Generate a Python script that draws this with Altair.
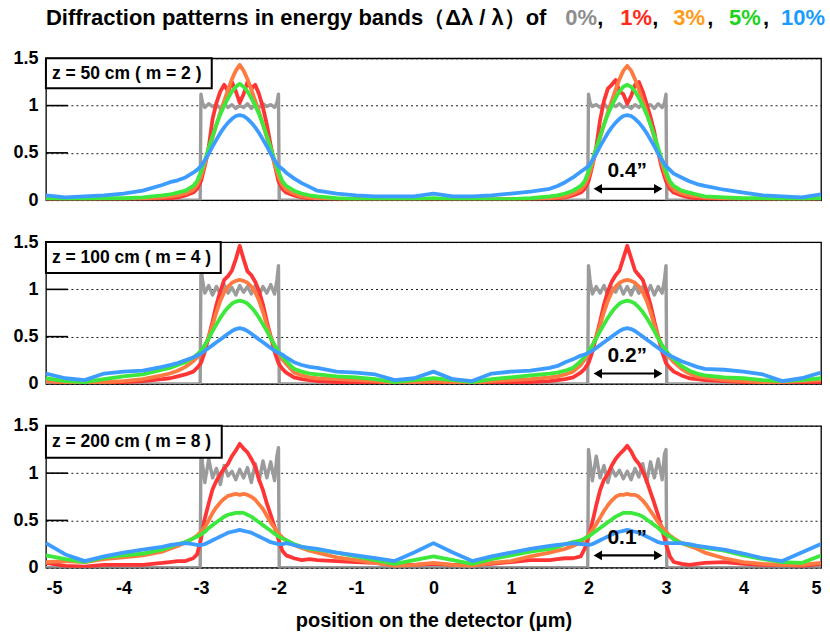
import altair as alt
import pandas as pd

FONT = "Liberation Sans"

# ---------------- data ----------------
x_grid = [
    -5.0, -4.75, -4.5, -4.25, -4.0, -3.75, -3.5,
    -3.4, -3.3, -3.2, -3.1, -3.05, -3.0, -2.95, -2.9, -2.85, -2.8, -2.75, -2.7, -2.65, -2.6, -2.55,
    -2.5, -2.45, -2.4, -2.35, -2.3, -2.25, -2.2, -2.15, -2.1, -2.05, -2.0, -1.95, -1.9, -1.8, -1.7, -1.6,
    -1.5, -1.25, -1.0, -0.75, -0.5, -0.25, 0.0, 0.25, 0.5, 0.75, 1.0, 1.25, 1.5,
    1.6, 1.7, 1.8, 1.9, 1.95, 2.0, 2.05, 2.1, 2.15, 2.2, 2.25, 2.3, 2.35, 2.4, 2.45,
    2.5, 2.55, 2.6, 2.65, 2.7, 2.75, 2.8, 2.85, 2.9, 2.95, 3.0, 3.05, 3.1, 3.2, 3.3, 3.4,
    3.5, 3.75, 4.0, 4.25, 4.5, 4.75, 5.0]

gray_x = [
    -5.0,
    -3.01, -3.0, -2.98, -2.95, -2.9, -2.85, -2.8, -2.75, -2.7, -2.65, -2.6, -2.55, -2.5, -2.45, -2.4,
    -2.35, -2.3, -2.25, -2.2, -2.15, -2.1, -2.05, -2.02, -2.0, -1.99,
    1.99, 2.0, 2.02, 2.05, 2.1, 2.15, 2.2, 2.25, 2.3, 2.35, 2.4, 2.45, 2.5, 2.55, 2.6,
    2.65, 2.7, 2.75, 2.8, 2.85, 2.9, 2.95, 2.98, 3.0, 3.01,
    5.0]

# ---- panel 1 : z = 50 cm ----
p1_gray = [
    0.0,
    0.0, 1.12, 1.03, 0.98, 1.02, 0.99, 1.01, 0.97, 1.02, 0.98, 1.01, 0.97, 1.0, 0.98, 1.02,
    0.97, 1.01, 0.98, 1.02, 0.99, 1.01, 0.98, 1.03, 1.12, 0.0,
    0.0, 1.12, 1.03, 0.99, 1.01, 0.98, 1.02, 0.97, 1.01, 0.99, 1.02, 0.98, 1.0, 0.97, 1.01,
    0.98, 1.02, 0.99, 1.01, 0.97, 1.02, 0.98, 1.03, 1.12, 0.0,
    0.0]
p1_red = [
    0.01, 0.01, 0.0, 0.01, 0.01, 0.01, 0.02,
    0.02, 0.03, 0.05, 0.08, 0.12, 0.2, 0.36, 0.56, 0.86, 1.03, 1.15, 1.22, 1.15, 1.25, 1.15,
    1.03, 1.12, 1.25, 1.18, 1.22, 1.12, 0.98, 0.8, 0.58, 0.38, 0.2, 0.12, 0.08, 0.05, 0.03, 0.02,
    0.02, 0.01, 0.01, 0.0, 0.01, 0.0, 0.01, 0.0, 0.01, 0.0, 0.01, 0.01, 0.02,
    0.02, 0.03, 0.05, 0.08, 0.12, 0.2, 0.36, 0.56, 0.85, 1.05, 1.18, 1.22, 1.27, 1.15, 1.12,
    1.02, 1.1, 1.22, 1.25, 1.15, 1.02, 0.88, 0.72, 0.5, 0.33, 0.2, 0.12, 0.08, 0.05, 0.03, 0.02,
    0.02, 0.01, 0.01, 0.01, 0.0, 0.01, 0.01]
p1_orange = [
    0.01, 0.01, 0.01, 0.01, 0.01, 0.02, 0.03,
    0.04, 0.05, 0.07, 0.11, 0.16, 0.25, 0.38, 0.52, 0.66, 0.8, 0.93, 1.05, 1.17, 1.28, 1.37,
    1.43, 1.37, 1.28, 1.17, 1.05, 0.93, 0.8, 0.66, 0.52, 0.38, 0.25, 0.16, 0.11, 0.07, 0.04, 0.03,
    0.02, 0.01, 0.01, 0.01, 0.01, 0.01, 0.01, 0.01, 0.01, 0.01, 0.01, 0.01, 0.02,
    0.03, 0.04, 0.07, 0.11, 0.16, 0.25, 0.38, 0.52, 0.66, 0.8, 0.93, 1.05, 1.17, 1.28, 1.37,
    1.42, 1.37, 1.28, 1.17, 1.05, 0.93, 0.8, 0.66, 0.52, 0.38, 0.25, 0.16, 0.11, 0.07, 0.05, 0.04,
    0.03, 0.02, 0.01, 0.01, 0.01, 0.01, 0.01]
p1_green = [
    0.02, 0.01, 0.01, 0.02, 0.02, 0.03, 0.05,
    0.06, 0.08, 0.1, 0.15, 0.2, 0.3, 0.42, 0.55, 0.68, 0.8, 0.91, 1.0, 1.08, 1.15, 1.2,
    1.23, 1.2, 1.15, 1.08, 1.0, 0.91, 0.8, 0.68, 0.55, 0.42, 0.3, 0.2, 0.15, 0.1, 0.07, 0.05,
    0.04, 0.02, 0.01, 0.01, 0.01, 0.01, 0.02, 0.01, 0.01, 0.01, 0.01, 0.02, 0.04,
    0.05, 0.07, 0.1, 0.15, 0.2, 0.3, 0.42, 0.55, 0.68, 0.8, 0.91, 1.0, 1.08, 1.15, 1.2,
    1.22, 1.2, 1.15, 1.08, 1.0, 0.91, 0.8, 0.68, 0.55, 0.42, 0.3, 0.2, 0.15, 0.1, 0.08, 0.06,
    0.04, 0.03, 0.02, 0.02, 0.01, 0.01, 0.02]
p1_blue = [
    0.05, 0.03, 0.04, 0.05, 0.07, 0.1, 0.16,
    0.19, 0.21, 0.24, 0.29, 0.32, 0.36, 0.42, 0.49, 0.57, 0.64, 0.71, 0.77, 0.82, 0.86, 0.89,
    0.9, 0.89, 0.86, 0.82, 0.77, 0.71, 0.64, 0.57, 0.49, 0.42, 0.36, 0.33, 0.29, 0.23, 0.18, 0.14,
    0.1, 0.07, 0.05, 0.04, 0.04, 0.04, 0.07, 0.04, 0.04, 0.05, 0.07, 0.09, 0.12,
    0.15, 0.19, 0.24, 0.3, 0.33, 0.36, 0.42, 0.49, 0.57, 0.64, 0.71, 0.77, 0.82, 0.86, 0.89,
    0.9, 0.89, 0.86, 0.82, 0.77, 0.71, 0.64, 0.57, 0.49, 0.42, 0.36, 0.32, 0.28, 0.24, 0.2, 0.17,
    0.15, 0.11, 0.08, 0.05, 0.04, 0.03, 0.06]

# ---- panel 2 : z = 100 cm ----
p2_gray = [
    0.0,
    0.0, 1.25, 1.1, 0.96, 1.04, 0.94, 1.03, 0.95, 1.05, 0.96, 1.02, 0.94, 1.04, 0.97, 1.03,
    0.95, 1.04, 0.94, 1.03, 0.96, 1.05, 0.95, 1.1, 1.25, 0.0,
    0.0, 1.25, 1.1, 0.95, 1.03, 0.96, 1.04, 0.94, 1.02, 0.97, 1.05, 0.95, 1.03, 0.94, 1.04,
    0.96, 1.03, 0.95, 1.04, 0.94, 1.03, 0.96, 1.1, 1.25, 0.0,
    0.0]
p2_red = [
    0.03, 0.02, 0.01, 0.01, 0.02, 0.03, 0.05,
    0.06, 0.08, 0.1, 0.13, 0.17, 0.22, 0.34, 0.5, 0.66, 0.84, 0.98, 1.1, 1.14, 1.2, 1.32,
    1.46, 1.32, 1.19, 1.15, 1.08, 0.98, 0.84, 0.66, 0.5, 0.34, 0.22, 0.16, 0.12, 0.07, 0.05, 0.04,
    0.03, 0.02, 0.02, 0.02, 0.01, 0.02, 0.02, 0.02, 0.01, 0.02, 0.02, 0.02, 0.03,
    0.04, 0.05, 0.07, 0.12, 0.16, 0.22, 0.34, 0.5, 0.66, 0.84, 0.98, 1.08, 1.15, 1.2, 1.33,
    1.46, 1.33, 1.2, 1.15, 1.1, 0.98, 0.84, 0.66, 0.5, 0.34, 0.22, 0.17, 0.13, 0.09, 0.06, 0.05,
    0.04, 0.03, 0.02, 0.02, 0.01, 0.02, 0.02]
p2_orange = [
    0.03, 0.02, 0.01, 0.02, 0.03, 0.05, 0.09,
    0.11, 0.14, 0.18, 0.24, 0.28, 0.33, 0.4, 0.5, 0.62, 0.76, 0.88, 0.97, 1.03, 1.07, 1.09,
    1.1, 1.09, 1.07, 1.03, 0.97, 0.88, 0.76, 0.62, 0.5, 0.4, 0.33, 0.26, 0.21, 0.12, 0.09, 0.07,
    0.06, 0.05, 0.04, 0.03, 0.01, 0.02, 0.03, 0.02, 0.01, 0.03, 0.04, 0.05, 0.07,
    0.08, 0.1, 0.13, 0.2, 0.26, 0.33, 0.4, 0.5, 0.62, 0.76, 0.88, 0.97, 1.03, 1.07, 1.09,
    1.1, 1.09, 1.07, 1.03, 0.97, 0.88, 0.76, 0.62, 0.5, 0.4, 0.33, 0.28, 0.23, 0.16, 0.11, 0.08,
    0.07, 0.04, 0.03, 0.02, 0.02, 0.03, 0.04]
p2_green = [
    0.06, 0.03, 0.02, 0.05, 0.08, 0.1, 0.15,
    0.17, 0.2, 0.23, 0.28, 0.31, 0.35, 0.41, 0.48, 0.56, 0.63, 0.7, 0.76, 0.81, 0.85, 0.87,
    0.88, 0.87, 0.85, 0.81, 0.76, 0.7, 0.63, 0.56, 0.48, 0.41, 0.34, 0.29, 0.24, 0.16, 0.13, 0.11,
    0.1, 0.08, 0.07, 0.05, 0.02, 0.04, 0.06, 0.04, 0.02, 0.05, 0.07, 0.09, 0.11,
    0.12, 0.14, 0.17, 0.24, 0.29, 0.34, 0.41, 0.48, 0.56, 0.63, 0.7, 0.76, 0.81, 0.85, 0.87,
    0.88, 0.87, 0.85, 0.81, 0.76, 0.7, 0.63, 0.56, 0.48, 0.41, 0.35, 0.3, 0.26, 0.19, 0.14, 0.11,
    0.09, 0.07, 0.06, 0.04, 0.03, 0.04, 0.06]
p2_blue = [
    0.11, 0.06, 0.04, 0.11, 0.13, 0.14, 0.18,
    0.2, 0.22, 0.25, 0.28, 0.3, 0.32, 0.35, 0.38, 0.41, 0.44, 0.47, 0.5, 0.53, 0.56, 0.58,
    0.59, 0.58, 0.56, 0.53, 0.5, 0.47, 0.44, 0.41, 0.38, 0.35, 0.33, 0.31, 0.28, 0.23, 0.2, 0.18,
    0.17, 0.13, 0.12, 0.1, 0.04, 0.06, 0.13, 0.05, 0.03, 0.11, 0.13, 0.14, 0.17,
    0.19, 0.23, 0.26, 0.3, 0.31, 0.33, 0.35, 0.38, 0.41, 0.44, 0.47, 0.5, 0.53, 0.56, 0.58,
    0.59, 0.58, 0.56, 0.53, 0.5, 0.47, 0.44, 0.41, 0.38, 0.35, 0.32, 0.3, 0.28, 0.24, 0.21, 0.18,
    0.16, 0.15, 0.13, 0.1, 0.03, 0.06, 0.12]

# ---- panel 3 : z = 200 cm ----
p3_gray = [
    0.0,
    0.0, 1.27, 1.1, 0.9, 1.15, 0.95, 1.05, 0.88, 1.08, 0.97, 1.02, 0.93, 1.04, 0.95, 1.06,
    0.9, 1.1, 0.92, 1.13, 0.95, 1.12, 0.92, 1.18, 1.27, 0.0,
    0.0, 1.25, 1.12, 0.92, 1.18, 0.95, 1.08, 0.9, 1.05, 0.97, 1.03, 0.94, 1.02, 0.93, 1.05,
    0.96, 1.1, 0.9, 1.12, 0.95, 1.15, 0.93, 1.2, 1.25, 0.0,
    0.0]
p3_red = [
    0.05, 0.02, 0.01, 0.03, 0.03, 0.03, 0.05,
    0.06, 0.07, 0.07, 0.1, 0.14, 0.3, 0.52, 0.68, 0.83, 0.92, 0.99, 1.05, 1.1, 1.18, 1.24,
    1.31, 1.26, 1.22, 1.15, 1.07, 0.93, 0.82, 0.68, 0.56, 0.43, 0.3, 0.18, 0.13, 0.1, 0.08, 0.09,
    0.08, 0.07, 0.06, 0.05, 0.03, 0.03, 0.04, 0.03, 0.03, 0.04, 0.06, 0.08, 0.08,
    0.09, 0.1, 0.1, 0.12, 0.2, 0.32, 0.48, 0.66, 0.82, 0.93, 0.99, 1.08, 1.15, 1.2, 1.24,
    1.29, 1.23, 1.15, 1.1, 1.02, 0.92, 0.8, 0.68, 0.55, 0.4, 0.25, 0.12, 0.06, 0.04, 0.03, 0.04,
    0.05, 0.06, 0.04, 0.03, 0.03, 0.02, 0.04]
p3_orange = [
    0.06, 0.07, 0.06, 0.09, 0.11, 0.13, 0.17,
    0.2, 0.23, 0.27, 0.31, 0.34, 0.38, 0.43, 0.5, 0.58, 0.64, 0.69, 0.73, 0.76, 0.77, 0.78,
    0.77, 0.78, 0.77, 0.75, 0.72, 0.67, 0.62, 0.55, 0.48, 0.42, 0.36, 0.32, 0.29, 0.24, 0.21, 0.18,
    0.16, 0.11, 0.08, 0.05, 0.02, 0.03, 0.05, 0.03, 0.02, 0.05, 0.07, 0.12, 0.16,
    0.18, 0.2, 0.23, 0.27, 0.3, 0.35, 0.4, 0.46, 0.53, 0.6, 0.66, 0.71, 0.75, 0.77, 0.77,
    0.78, 0.77, 0.77, 0.75, 0.71, 0.66, 0.6, 0.54, 0.48, 0.43, 0.38, 0.34, 0.31, 0.26, 0.23, 0.2,
    0.16, 0.1, 0.06, 0.04, 0.03, 0.03, 0.05]
p3_green = [
    0.13, 0.09, 0.06, 0.11, 0.13, 0.15, 0.19,
    0.22, 0.25, 0.27, 0.31, 0.33, 0.35, 0.38, 0.42, 0.45, 0.48, 0.51, 0.54, 0.56, 0.57, 0.58,
    0.58, 0.58, 0.56, 0.54, 0.51, 0.48, 0.45, 0.42, 0.39, 0.36, 0.33, 0.31, 0.29, 0.25, 0.22, 0.2,
    0.19, 0.16, 0.12, 0.08, 0.04, 0.08, 0.12, 0.08, 0.04, 0.09, 0.13, 0.17, 0.2,
    0.22, 0.25, 0.27, 0.29, 0.31, 0.33, 0.36, 0.39, 0.42, 0.45, 0.48, 0.51, 0.54, 0.56, 0.58,
    0.58, 0.58, 0.57, 0.56, 0.54, 0.51, 0.48, 0.45, 0.42, 0.38, 0.35, 0.33, 0.3, 0.26, 0.24, 0.23,
    0.21, 0.18, 0.13, 0.09, 0.06, 0.05, 0.13]
p3_blue = [
    0.26, 0.14, 0.07, 0.12, 0.16, 0.19, 0.22,
    0.24, 0.25, 0.26, 0.25, 0.24, 0.24, 0.25, 0.27, 0.29, 0.31, 0.33, 0.35, 0.37, 0.38, 0.39,
    0.4, 0.39, 0.38, 0.37, 0.35, 0.33, 0.31, 0.29, 0.27, 0.26, 0.25, 0.25, 0.26, 0.24, 0.22, 0.21,
    0.2, 0.16, 0.13, 0.1, 0.07, 0.16, 0.26, 0.16, 0.07, 0.12, 0.16, 0.2, 0.23,
    0.24, 0.25, 0.26, 0.25, 0.25, 0.24, 0.25, 0.27, 0.29, 0.31, 0.33, 0.35, 0.37, 0.38, 0.39,
    0.4, 0.39, 0.38, 0.37, 0.35, 0.33, 0.31, 0.29, 0.27, 0.26, 0.26, 0.26, 0.26, 0.26, 0.25, 0.23,
    0.22, 0.19, 0.15, 0.1, 0.07, 0.16, 0.25]

panel_labels = ["z = 50 cm ( m = 2 )", "z = 100 cm ( m = 4 )", "z = 200 cm ( m = 8 )"]
arrow_labels = ["0.4\u201d", "0.2\u201d", "0.1\u201d"]
arrow_y = [0.12, 0.11, 0.13]
arrow_label_y = [0.31, 0.30, 0.31]
arrow_x = [2.12, 2.90]
arrow_label_x = [2.5]
x_ticks = [-5, -4, -3, -2, -1, 0, 1, 2, 3, 4, 5]
y_ticks = [0, 0.5, 1, 1.5]
y_major_marks = [0.5, 1.0]

series_names = ["0%", "1%", "3%", "5%", "10%"]
line_colors = ["#9b9b9b", "#ff3535", "#ff7a40", "#3de83d", "#3d9cff"]
title_text_colors = ["#8e8e8e", "#ff2a1a", "#ff9a1a", "#1ed21e", "#1a9cff"]

title_parts = ["Diffraction patterns in energy bands\uff08\u0394\u03bb / \u03bb\uff09of",
               "0%", ",", "1%", ",", "3%", ",", "5%", ",", "10%"]
title_colors = ["black", title_text_colors[0], "black", title_text_colors[1], "black",
                title_text_colors[2], "black", title_text_colors[3], "black", title_text_colors[4]]
title_px = [0, 520, 552, 575, 607, 628, 662, 684, 718, 736]

panels_data = [
    [p1_gray, p1_red, p1_orange, p1_green, p1_blue],
    [p2_gray, p2_red, p2_orange, p2_green, p2_blue],
    [p3_gray, p3_red, p3_orange, p3_green, p3_blue],
]
box_w = [166, 175, 176]
box_h = [30, 31, 32]

for pdat in panels_data:
    if len(pdat[0]) != len(gray_x):
        raise ValueError("gray length %d" % len(pdat[0]))
    for s in pdat[1:]:
        if len(s) != len(x_grid):
            raise ValueError("series length %d" % len(s))

# ---------------- chart ----------------
W, H = 776, 142
xs = alt.Scale(domain=[-5, 5], nice=False, zero=False)
ys = alt.Scale(domain=[0, 1.5], nice=False, zero=False)


def make_panel(k):
    show_x = (k == 2)
    if show_x:
        xaxis = alt.Axis(values=x_ticks, labelExpr="'' + datum.value", labelFont=FONT,
                         labelFontSize=18, labelFontWeight="bold", labelColor="black",
                         ticks=False, domain=False, grid=False, labelPadding=12,
                         title="position on the detector (\u03bcm)", titleFont=FONT,
                         titleFontSize=20, titleFontWeight="bold", titleColor="black",
                         titlePadding=13)
    else:
        xaxis = None
    yaxis = alt.Axis(values=y_ticks, format="~g", labelFont=FONT, labelFontSize=18,
                     labelFontWeight="bold", labelColor="black", ticks=False, domain=False,
                     grid=True, gridColor="black", gridDash=[2, 3], gridWidth=1, gridOpacity=0.9,
                     labelPadding=8, title=None)

    def X(f):
        return alt.X(f, type="quantitative", scale=xs, axis=xaxis)

    def Y(f):
        return alt.Y(f, type="quantitative", scale=ys, axis=yaxis)

    layers = []
    pdat = panels_data[k]
    # gray first (behind), then 1%, 3%, 5%, 10%
    for i, vals in enumerate(pdat):
        xv = gray_x if i == 0 else x_grid
        df = pd.DataFrame({"x": xv, "y": vals, "series": series_names[i]})
        layers.append(
            alt.Chart(df).mark_line(color=line_colors[i], strokeWidth=3.4 if i == 0 else 3.8,
                                    clip=True, strokeJoin="round")
            .encode(x=X("x"), y=Y("y"))
        )

    # short solid segments at the start of the major grid lines
    layers.append(
        alt.Chart(pd.DataFrame({"y": y_major_marks})).mark_rule(color="black", strokeWidth=1.6)
        .encode(x=alt.value(0), x2=alt.value(22), y=Y("y"))
    )

    # double arrow and width label
    ay = arrow_y[k]
    layers.append(
        alt.Chart(pd.DataFrame({"x1": [arrow_x[0]], "x2": [arrow_x[1]], "y": [ay]}))
        .mark_rule(color="black", strokeWidth=2.2)
        .encode(x=X("x1"), x2="x2:Q", y=Y("y"))
    )
    layers.append(
        alt.Chart(pd.DataFrame({"x": arrow_x, "y": [ay, ay],
                                "s": ["triangle-left", "triangle-right"]}))
        .mark_point(filled=True, size=95, color="black", opacity=1, strokeWidth=0)
        .encode(x=X("x"), y=Y("y"), shape=alt.Shape("s:N", scale=None, legend=None))
    )
    layers.append(
        alt.Chart(pd.DataFrame({"x": arrow_label_x, "y": [arrow_label_y[k]],
                                "t": [arrow_labels[k]]}))
        .mark_text(font=FONT, fontSize=21, fontWeight="bold", color="black",
                   align="center", baseline="middle")
        .encode(x=X("x"), y=Y("y"), text="t:N")
    )

    # label box
    layers.append(
        alt.Chart(pd.DataFrame({"t": [panel_labels[k]]}))
        .mark_rect(fill="white", stroke="black", strokeWidth=2)
        .encode(x=alt.value(0), x2=alt.value(box_w[k]), y=alt.value(0), y2=alt.value(box_h[k]))
    )
    layers.append(
        alt.Chart(pd.DataFrame({"t": [panel_labels[k]]}))
        .mark_text(font=FONT, fontSize=17.5, fontWeight="bold", color="black",
                   align="left", baseline="middle")
        .encode(x=alt.value(6), y=alt.value(box_h[k] / 2 + 0.5), text="t:N")
    )

    if k == 0:
        for t, c, px in zip(title_parts, title_colors, title_px):
            layers.append(
                alt.Chart(pd.DataFrame({"t": [t]}))
                .mark_text(font=FONT, fontSize=22, fontWeight="bold", color=c,
                           align="left", baseline="middle")
                .encode(x=alt.value(px), y=alt.value(-40), text="t:N")
            )

    return alt.layer(*layers).properties(width=W, height=H)


chart = (
    alt.vconcat(make_panel(0), make_panel(1), make_panel(2), spacing=42, bounds="flush")
    .properties(padding={"left": 12, "top": 6, "right": 4, "bottom": 4})
    .configure_view(stroke="black", strokeWidth=1.3)
)

chart.save("out.html", embed_options={"renderer": "svg", "actions": False})
